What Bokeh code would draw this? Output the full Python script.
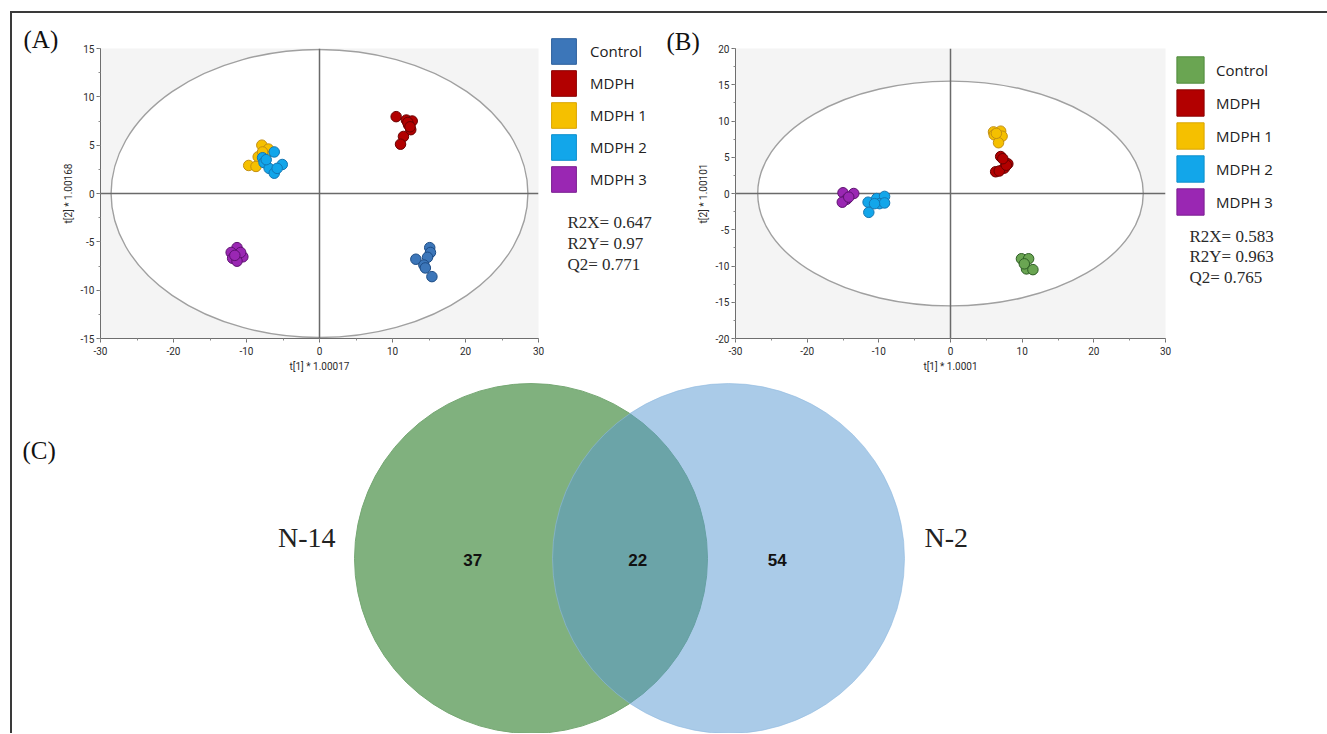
from bokeh.plotting import figure
from bokeh.layouts import column, row
from bokeh.models import Range1d, SingleIntervalTicker, Legend, LegendItem, PrintfTickFormatter
from bokeh.embed import file_html
from bokeh.resources import INLINE
from bokeh.core.properties import value

# ---------------- data ----------------
groups_A = ["Control", "MDPH", "MDPH 1", "MDPH 2", "MDPH 3"]
groups_B = ["Control", "MDPH", "MDPH 1", "MDPH 2", "MDPH 3"]

# Panel (A) score plot  t[1] vs t[2]
a_control_x = [15.1, 15.2, 14.8, 13.2, 14.3, 14.5, 15.4]
a_control_y = [-5.6, -6.1, -6.6, -6.8, -7.4, -7.7, -8.6]
a_mdph_x = [10.5, 11.9, 12.7, 12.2, 12.5, 11.5, 11.1, 12.1, 12.4]
a_mdph_y = [7.95, 7.6, 7.5, 7.1, 6.6, 5.9, 5.1, 7.35, 6.9]
a_mdph1_x = [-7.9, -7.0, -8.4, -9.7, -8.7, -7.4, -7.8]
a_mdph1_y = [5.0, 4.6, 3.8, 2.9, 2.8, 3.9, 4.3]
a_mdph2_x = [-6.2, -7.8, -7.6, -6.9, -6.2, -5.1, -5.8, -7.3]
a_mdph2_y = [4.3, 3.7, 3.2, 2.6, 2.1, 3.0, 2.6, 3.5]
a_mdph3_x = [-11.3, -12.1, -10.5, -11.9, -11.3, -10.8, -11.6]
a_mdph3_y = [-5.6, -6.1, -6.55, -6.7, -7.0, -6.1, -6.4]

# Panel (B) score plot
b_control_x = [9.9, 10.9, 10.6, 11.5, 10.3]
b_control_y = [-9.0, -9.0, -10.4, -10.5, -9.7]
b_mdph_x = [7.0, 8.0, 7.5, 6.3, 6.8, 7.8, 7.3]
b_mdph_y = [5.1, 4.1, 3.5, 3.0, 3.1, 3.9, 4.8]
b_mdph1_x = [6.0, 7.0, 6.6, 7.2, 6.1, 6.7, 6.4]
b_mdph1_y = [8.5, 8.6, 7.9, 7.9, 8.1, 7.0, 8.3]
b_mdph2_x = [-11.5, -11.4, -10.3, -9.2, -9.9, -9.2, -10.6]
b_mdph2_y = [-1.2, -2.6, -0.7, -0.4, -1.4, -1.3, -1.4]
b_mdph3_x = [-15.0, -13.5, -14.5, -15.1, -14.2]
b_mdph3_y = [0.1, 0.0, -0.8, -1.2, -0.5]

# Hotelling T2 ellipse half-axes (t[1], t[2])
ellipse_A = [28.55, 14.9]
ellipse_B = [26.9, 15.5]

stats_names = ["R2X", "R2Y", "Q2"]
stats_A = [0.647, 0.97, 0.771]
stats_B = [0.583, 0.963, 0.765]

axis_labels_A = ["t[1] * 1.00017", "t[2] * 1.00168"]
axis_labels_B = ["t[1] * 1.0001", "t[2] * 1.00101"]

venn_sets = ["N-14", "N-2"]
venn_counts = [37, 22, 54]   # N-14 only, shared, N-2 only

panel_tags = ["(A)", "(B)", "(C)"]

# ---------------- styles ----------------
fill_A = ["#3c76b9", "#b20000", "#f5c000", "#12a6ea", "#9a27b3"]
line_A = ["#1d4c85", "#6a0000", "#c38f12", "#1476b2", "#5e1270"]
fill_B = ["#6aa552", "#b20000", "#f5c000", "#12a6ea", "#9a27b3"]
line_B = ["#2e5e25", "#6a0000", "#c38f12", "#1476b2", "#5e1270"]
leg_line_A = ["#2c5f9c", "#8a0000", "#d9a400", "#0d8fcc", "#7a1e90"]
leg_line_B = ["#4f8a3c", "#8a0000", "#d9a400", "#0d8fcc", "#7a1e90"]

TICK_FONT = "Roboto"
SERIF = "Liberation Serif"

# page geometry (top-left of the framed content)
OX, OY = 12, 13
TOP_H = 368
FULL_W, FULL_H = 1315, 720
NAN = float("nan")


def score_panel(width, height, borders, xlim, ylim, xlab, ylab, ell, series, fills, lines):
    l, r, t, b = borders
    p = figure(width=width, height=height, title=None,
               x_range=Range1d(-xlim, xlim), y_range=Range1d(-ylim, ylim),
               output_backend="svg", toolbar_location=None,
               min_border_left=l, min_border_right=r,
               min_border_top=t, min_border_bottom=b)
    p.background_fill_color = "#f4f4f4"
    p.border_fill_color = "white"
    p.outline_line_color = None
    p.grid.visible = False
    p.xaxis.ticker = SingleIntervalTicker(interval=10, num_minor_ticks=2)
    p.yaxis.ticker = SingleIntervalTicker(interval=5, num_minor_ticks=2)
    p.xaxis.axis_label = xlab
    p.yaxis.axis_label = ylab
    for ax in (p.xaxis, p.yaxis):
        ax.formatter = PrintfTickFormatter(format="%d")
        ax.axis_line_color = "#6e6e6e"
        ax.major_tick_line_color = "#6e6e6e"
        ax.minor_tick_line_color = "#8a8a8a"
        ax.major_tick_out = 4
        ax.major_tick_in = 0
        ax.minor_tick_out = 2
        ax.minor_tick_in = 0
        ax.major_label_text_font = TICK_FONT
        ax.major_label_text_font_size = "10px"
        ax.major_label_text_color = "#2b2b2b"
        ax.axis_label_text_font = TICK_FONT
        ax.axis_label_text_font_size = "10px"
        ax.axis_label_text_font_style = "normal"
        ax.axis_label_text_color = "#2b2b2b"
    p.xaxis.major_label_standoff = 4
    p.xaxis.axis_label_standoff = 3
    p.yaxis.major_label_standoff = 2
    p.yaxis.axis_label_standoff = 3

    # confidence ellipse
    p.ellipse(x=[0], y=[0], width=[2 * ell[0]], height=[2 * ell[1]],
              fill_color="white", line_color="#a0a0a0", line_width=1.4)
    # crosshair at origin
    p.segment(x0=[-xlim, 0], y0=[0, -ylim], x1=[xlim, 0], y1=[0, ylim],
              line_color="#6a6a6a", line_width=1.5)
    for (xs, ys), fc, lc in zip(series, fills, lines):
        p.scatter(xs, ys, marker="circle", size=10.5, fill_color=fc,
                  line_color=lc, line_width=1)
    return p


series_A = [(a_control_x, a_control_y), (a_mdph_x, a_mdph_y), (a_mdph1_x, a_mdph1_y),
            (a_mdph2_x, a_mdph2_y), (a_mdph3_x, a_mdph3_y)]
series_B = [(b_control_x, b_control_y), (b_mdph_x, b_mdph_y), (b_mdph1_x, b_mdph1_y),
            (b_mdph2_x, b_mdph2_y), (b_mdph3_x, b_mdph3_y)]

# frames: A at page x 100..538, y 40..338 ; B at page x 735..1165, y 48..340
pA = score_panel(648, TOP_H, (100 - OX, 648 - (100 - OX) - 438, 40 - OY, OY + TOP_H - 338),
                 30, 15, axis_labels_A[0], axis_labels_A[1], ellipse_A, series_A, fill_A, line_A)
wB = FULL_W - 648
pB = score_panel(wB, TOP_H, (735 - 660, wB - (735 - 660) - 430, 48 - OY, OY + TOP_H - 340),
                 30, 20, axis_labels_B[0], axis_labels_B[1], ellipse_B, series_B, fill_B, line_B)

# ---------------- overlay canvas: legends, statistics, tags and Venn (C) ----------------
pC = figure(width=FULL_W, height=FULL_H, title=None, x_range=Range1d(OX, OX + FULL_W),
            y_range=Range1d(0, FULL_H),
            output_backend="svg", toolbar_location=None, min_border=0,
            min_border_left=0, min_border_right=0, min_border_top=0, min_border_bottom=0,
            x_axis_location=None, y_axis_location=None,
            styles={"margin-top": f"-{TOP_H}px"})
pC.outline_line_color = None
pC.background_fill_alpha = 0
pC.border_fill_alpha = 0
pC.grid.visible = False


def yc(page_y):
    # page pixel row -> overlay y coordinate
    return OY + FULL_H - page_y


def add_legend(names, fills, lines, left, bottom, gw, gh, standoff):
    items = []
    for n, fc, lc in zip(names, fills, lines):
        rr = pC.rect(x=[NAN], y=[NAN], width=1, height=1, fill_color=fc, line_color=lc,
                     line_width=1)
        items.append(LegendItem(label=n, renderers=[rr]))
    lg = Legend(items=items, location=(left - OX, yc(bottom)), orientation="vertical",
                glyph_width=gw, glyph_height=gh, spacing=0, padding=0, margin=0,
                label_standoff=standoff, label_text_font="Open Sans",
                label_text_font_size="15px", label_text_color="#222222",
                border_line_color=None, background_fill_alpha=0)
    pC.add_layout(lg)


def add_stats(vals, x, rows):
    pC.text(x=[x] * len(vals), y=[yc(r) for r in rows],
            text=[f"{n}= {v}" for n, v in zip(stats_names, vals)],
            text_font=value(SERIF), text_font_size="17px", text_color="#2a2a2a",
            text_align="left", text_baseline="middle")


# legend glyph boxes are drawn with a 10% inset, so boxes are sized 1/0.8 of the squares
add_legend(groups_A, fill_A, leg_line_A, 548, 195, 31, 32, 11)
add_legend(groups_B, fill_B, leg_line_B, 1173, 218, 34, 33, 9)
add_stats(stats_A, 567, [222, 243, 264])
add_stats(stats_B, 1189, [236, 256, 277])

pC.text(x=[23, 666, 22], y=[yc(39), yc(41), yc(450)], text=panel_tags,
        text_font=value(SERIF), text_font_size="25px", text_color="#111111",
        text_align="left", text_baseline="middle")

venn_cx = [530.5, 728.0]
venn_cy = yc(558)
pC.ellipse(x=[venn_cx[0]], y=[venn_cy], width=[353], height=[350],
           fill_color="#80b17e", line_color="#76a874", line_width=1)
pC.ellipse(x=[venn_cx[1]], y=[venn_cy], width=[352], height=[350],
           fill_color="#5597d1", fill_alpha=0.5, line_color="#8fb9df", line_alpha=0.6, line_width=1)

pC.text(x=[472.3, 637.3, 776.7], y=[yc(559)] * 3, text=[str(c) for c in venn_counts],
        text_font=value("Liberation Sans"), text_font_style="bold", text_font_size="17px",
        text_color="#111111", text_align="center", text_baseline="middle")
pC.text(x=[335], y=[yc(537)], text=[venn_sets[0]], text_font=value(SERIF),
        text_font_size="28px", text_color="#222222", text_align="right", text_baseline="middle")
pC.text(x=[924], y=[yc(537)], text=[venn_sets[1]], text_font=value(SERIF),
        text_font_size="28px", text_color="#222222", text_align="left", text_baseline="middle")

layout = column(row(pA, pB), pC,
                styles={"border-top": "2px solid #3a3a3a", "border-left": "2px solid #3a3a3a",
                        "margin-left": "10px", "margin-top": "11px"})

open("out.html", "w").write(file_html(layout, INLINE))
